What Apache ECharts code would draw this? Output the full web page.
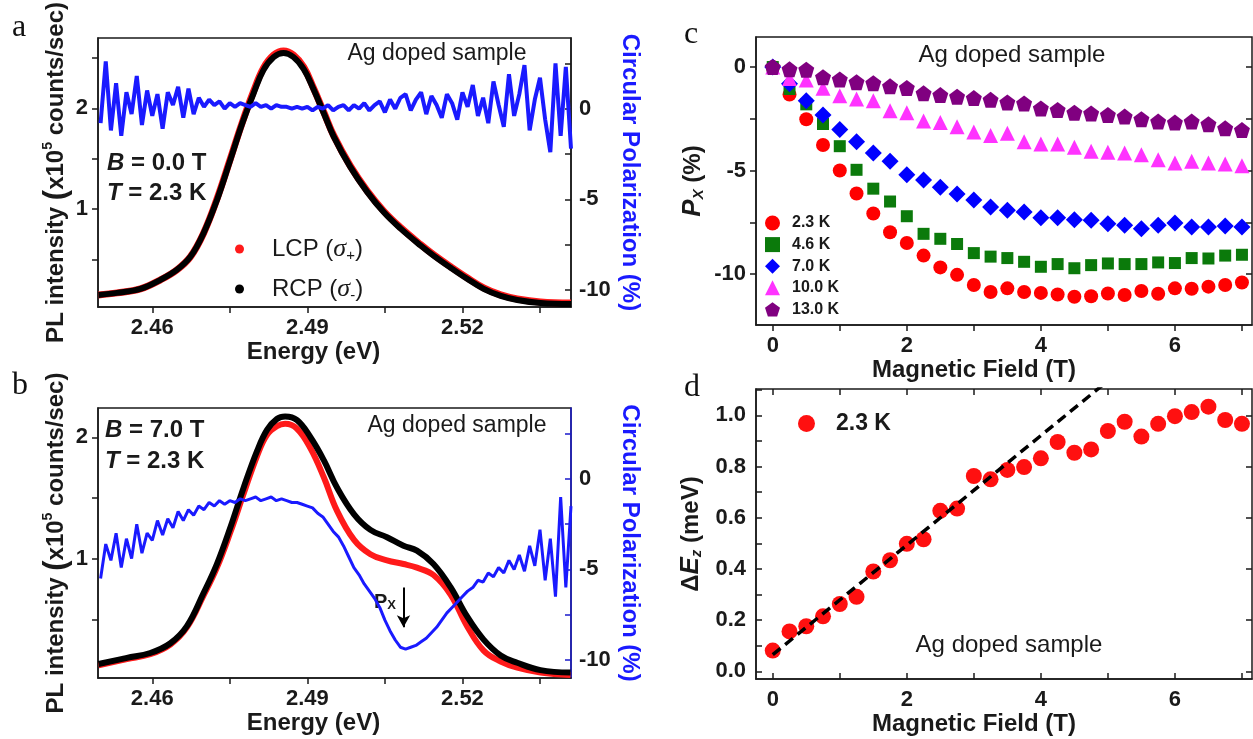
<!DOCTYPE html>
<html>
<head>
<meta charset="utf-8">
<title>Ag doped sample</title>
<script src="https://cdn.jsdelivr.net/npm/echarts@6/dist/echarts.min.js"></script>
<style>
html, body { margin: 0; padding: 0; background: #fff; }
#main { width: 1253px; height: 739px; }
</style>
</head>
<body>
<div id="main"></div>
<script>
var myChart = echarts.init(document.getElementById('main'));

// ---- panel a : B = 0 T spectra (energy eV, PL x1e5 counts/sec)
var plEnergyA = [2.4496, 2.4532, 2.4577, 2.4616, 2.4648, 2.4674, 2.4699, 2.4725, 2.4751, 2.4774, 2.4796, 2.4815, 2.4835, 2.4854, 2.4873, 2.4893, 2.4912, 2.4932, 2.4951, 2.4983, 2.5016, 2.5048, 2.5080, 2.5119, 2.5144, 2.5177, 2.5209, 2.5241, 2.5274, 2.5306, 2.5351, 2.5410];
var lcpA = [0.15, 0.17, 0.21, 0.30, 0.40, 0.53, 0.76, 1.10, 1.50, 1.86, 2.17, 2.40, 2.53, 2.57, 2.53, 2.41, 2.20, 1.96, 1.73, 1.43, 1.18, 0.98, 0.82, 0.65, 0.55, 0.43, 0.32, 0.22, 0.15, 0.11, 0.08, 0.07];
var rcpA = [0.15, 0.17, 0.21, 0.30, 0.40, 0.53, 0.76, 1.09, 1.49, 1.85, 2.15, 2.38, 2.51, 2.55, 2.51, 2.39, 2.19, 1.95, 1.72, 1.42, 1.17, 0.97, 0.81, 0.64, 0.54, 0.42, 0.31, 0.21, 0.14, 0.10, 0.07, 0.06];

// polarization traces share one energy grid
var polEnergy = [
  2.450, 2.451, 2.452, 2.453, 2.454, 2.455, 2.456, 2.457, 2.458, 2.459,
  2.460, 2.461, 2.462, 2.463, 2.464, 2.465, 2.466, 2.467, 2.468, 2.469,
  2.470, 2.471, 2.472, 2.473, 2.474, 2.475, 2.476, 2.477, 2.478, 2.479,
  2.480, 2.481, 2.482, 2.483, 2.484, 2.485, 2.486, 2.487, 2.488, 2.489,
  2.490, 2.491, 2.492, 2.493, 2.494, 2.495, 2.496, 2.497, 2.498, 2.499,
  2.500, 2.501, 2.502, 2.503, 2.504, 2.505, 2.506, 2.507, 2.508, 2.509,
  2.510, 2.511, 2.512, 2.513, 2.514, 2.515, 2.516, 2.517, 2.518, 2.519,
  2.520, 2.521, 2.522, 2.523, 2.524, 2.525, 2.526, 2.527, 2.528, 2.529,
  2.530, 2.531, 2.532, 2.533, 2.534, 2.535, 2.536, 2.537, 2.538, 2.539,
  2.540, 2.541];
var polA = [
  -0.8, 2.6, -1.2, 1.4, -1.5, 0.9, -0.3, 1.8, -0.9, 1.0,
  -0.4, 0.8, -1.1, 0.9, 0.2, 1.2, -0.5, 1.1, -0.3, 0.6,
  0.1, 0.5, 0.2, 0.4, 0.0, 0.3, 0.1, 0.3, 0.2, 0.1,
  0.3, 0.1, 0.2, 0.0, 0.2, 0.1, 0.1, 0.0, 0.1, 0.0,
  0.1, -0.1, 0.1, 0.0, 0.2, -0.1, 0.1, 0.2, -0.1, 0.2,
  0.0, 0.3, -0.1, 0.2, 0.4, -0.2, 0.5, 0.0, 0.6, 0.8,
  -0.1, 0.5, 0.9, -0.3, 0.7, 0.2, -0.5, 0.8, 0.3, -0.6,
  0.9, 0.1, 1.3, -0.4, 0.6, -0.8, 1.5, 0.2, -1.0, 1.9,
  -0.4, 0.8, 2.4, -1.2, 0.5, 1.7, -0.6, -2.4, 2.5, -1.5,
  2.3, -2.2];

// ---- panel b : B = 7 T spectra
var plEnergyB = [2.4496, 2.4551, 2.4596, 2.4635, 2.4667, 2.4699, 2.4725, 2.4751, 2.4777, 2.4803, 2.4822, 2.4841, 2.4857, 2.4880, 2.4906, 2.4932, 2.4957, 2.4990, 2.5022, 2.5054, 2.5086, 2.5112, 2.5144, 2.5177, 2.5209, 2.5241, 2.5274, 2.5306, 2.5351, 2.5409];
var lcpB = [0.13, 0.18, 0.22, 0.30, 0.44, 0.70, 0.93, 1.22, 1.54, 1.85, 2.02, 2.09, 2.11, 2.07, 1.91, 1.67, 1.40, 1.16, 1.04, 0.99, 0.96, 0.93, 0.87, 0.71, 0.45, 0.25, 0.16, 0.11, 0.07, 0.05];
var rcpB = [0.14, 0.19, 0.23, 0.31, 0.45, 0.72, 0.96, 1.26, 1.59, 1.89, 2.06, 2.15, 2.17, 2.14, 2.00, 1.81, 1.59, 1.37, 1.24, 1.18, 1.11, 1.07, 0.96, 0.77, 0.53, 0.34, 0.21, 0.15, 0.09, 0.07];
var polB = [
  -5.5, -3.6, -4.5, -3.0, -4.9, -3.3, -4.4, -2.5, -4.1, -3.0,
  -3.4, -2.3, -3.1, -2.2, -2.7, -1.8, -2.3, -1.7, -2.0, -1.5,
  -1.7, -1.3, -1.5, -1.2, -1.4, -1.2, -1.3, -1.1, -1.2, -1.1,
  -1.0, -1.2, -1.1, -1.0, -1.2, -1.1, -1.2, -1.3, -1.3, -1.4,
  -1.5, -1.6, -1.9, -2.1, -2.5, -2.9, -3.2, -3.7, -4.3, -4.9,
  -5.3, -5.8, -6.2, -6.6, -7.1, -7.8, -8.4, -8.9, -9.3, -9.4,
  -9.3, -9.2, -9.0, -8.8, -8.5, -8.2, -7.8, -7.4, -7.1, -6.8,
  -6.5, -6.2, -6.0, -5.6, -5.7, -5.2, -5.4, -4.9, -5.2, -4.5,
  -5.0, -4.2, -5.1, -3.7, -4.8, -2.8, -5.6, -3.3, -6.5, -1.0,
  -6.0, -1.5];
var pxArrow = [[2.5086, -6.0], [2.5086, -8.2]];

// ---- panel c : P_X vs field at several temperatures
var fieldT = [0, 0.25, 0.5, 0.75, 1, 1.25, 1.5, 1.75, 2, 2.25, 2.5, 2.75, 3, 3.25, 3.5, 3.75, 4, 4.25, 4.5, 4.75, 5, 5.25, 5.5, 5.75, 6, 6.25, 6.5, 6.75, 7];
var px23 = [0, -1.33, -2.52, -3.76, -4.99, -6.1, -7.07, -7.97, -8.49, -9.1, -9.67, -10.03, -10.52, -10.86, -10.68, -10.86, -10.9, -10.98, -11.09, -11.06, -10.93, -11.0, -10.81, -10.94, -10.68, -10.7, -10.6, -10.52, -10.4];
var px46 = [0, -1.06, -1.8, -2.75, -3.82, -4.96, -5.87, -6.49, -7.2, -8.05, -8.29, -8.54, -8.98, -9.15, -9.22, -9.4, -9.64, -9.51, -9.71, -9.56, -9.48, -9.51, -9.51, -9.43, -9.46, -9.22, -9.24, -9.1, -9.06];
var px70 = [0, -0.81, -1.63, -2.31, -3.01, -3.61, -4.15, -4.55, -5.2, -5.45, -5.8, -6.13, -6.42, -6.75, -6.91, -7.0, -7.27, -7.27, -7.37, -7.4, -7.56, -7.64, -7.8, -7.64, -7.53, -7.72, -7.72, -7.67, -7.72];
var px100 = [0, -0.55, -0.62, -1.02, -1.38, -1.54, -1.63, -2.11, -2.2, -2.6, -2.68, -2.88, -3.14, -3.3, -3.2, -3.61, -3.71, -3.71, -3.87, -4.07, -4.11, -4.15, -4.23, -4.47, -4.63, -4.55, -4.63, -4.68, -4.76];
var px130 = [0, -0.11, -0.13, -0.49, -0.6, -0.73, -0.78, -0.93, -1.01, -1.27, -1.35, -1.43, -1.5, -1.58, -1.71, -1.76, -2.0, -2.07, -2.2, -2.24, -2.31, -2.39, -2.52, -2.63, -2.68, -2.63, -2.76, -2.96, -3.04];
var tempNames = ['2.3 K', '4.6 K', '7.0 K', '10.0 K', '13.0 K'];

// ---- panel d : Zeeman splitting at 2.3 K
var dEz = [0.081, 0.156, 0.176, 0.215, 0.263, 0.291, 0.39, 0.434, 0.498, 0.516, 0.627, 0.636, 0.763, 0.75, 0.787, 0.798, 0.832, 0.896, 0.854, 0.867, 0.939, 0.975, 0.917, 0.967, 0.997, 1.013, 1.034, 0.982, 0.967];
var fitT = [0, 5.0];
var fitE = [0.065, 1.135];

// tick positions / labels
var energyTicks = [2.46, 2.475, 2.49, 2.505, 2.52, 2.535];
var energyLabels = [2.46, 2.49, 2.52];
var plTicksA = [0.5, 1, 1.5, 2, 2.5];
var plTicksB = [0.5, 1, 1.5, 2];
var plLabels = [1, 2];
var polTicks = [-10, -7.5, -5, -2.5, 0, 2.5];
var polLabels = [-10, -5, 0];
var fieldTicks = [0, 1, 2, 3, 4, 5, 6, 7];
var fieldLabels = [0, 2, 4, 6];
var pxTicks = [-10, -7.5, -5, -2.5, 0];
var pxLabels = [-10, -5, 0];
var dezTicks = [0, 0.1, 0.2, 0.3, 0.4, 0.5, 0.6, 0.7, 0.8, 0.9, 1.0, 1.1];
var dezLabels = [0, 0.2, 0.4, 0.6, 0.8, 1.0];

function pairs(xs, ys) {
    return xs.map(function (x, i) { return [x, ys[i]]; });
}

var SANS = 'Liberation Sans';
var INK = '#1a1a1a';
var BLUE = '#1a1aff';
var pentagon = 'path://M0,-10L9.51,-3.09L5.88,8.09L-5.88,8.09L-9.51,-3.09Z';

var tickFont = {fontFamily: SANS, fontWeight: 'bold', fontSize: 22, color: INK};
var nameFont = {fontFamily: SANS, fontWeight: 'bold', fontSize: 24, color: INK};

function valAxis(o) {
    var ax = {
        type: 'value',
        gridIndex: o.grid,
        position: o.position,
        min: o.min,
        max: o.max,
        splitLine: {show: false},
        axisLine: {show: o.line !== false, onZero: false, lineStyle: {color: o.color || INK, width: 1.5}},
        axisTick: {show: true, inside: !!o.inside, length: 6, customValues: o.ticks,
                   lineStyle: {color: o.color || INK, width: 1.5}},
        axisLabel: o.labels ? Object.assign({show: true, margin: o.margin || 10, customValues: o.labels,
                   formatter: o.fmt}, tickFont) : {show: false}
    };
    if (o.name) {
        ax.name = o.name;
        ax.nameLocation = 'middle';
        ax.nameGap = o.nameGap;
        if (o.nameRotate !== undefined) ax.nameRotate = o.nameRotate;
        ax.nameTextStyle = Object.assign({}, nameFont, o.nameStyle || {});
    }
    return ax;
}

var subRich = {
    b: {fontFamily: SANS, fontWeight: 'bold', fontSize: 24, color: INK},
    p: {fontFamily: SANS, fontWeight: 'bold', fontSize: 31, color: INK},
    sup: {fontFamily: SANS, fontWeight: 'bold', fontSize: 14, color: INK, verticalAlign: 'top'},
    pi: {fontFamily: SANS, fontWeight: 'bold', fontStyle: 'italic', fontSize: 26, color: INK},
    sub: {fontFamily: SANS, fontWeight: 'bold', fontStyle: 'italic', fontSize: 15, color: INK, verticalAlign: 'bottom'}
};
var plName = '{b|PL intensity }{p|(}{b|x10}{sup|5}{b| counts/sec)}';
var energyFmt = function (v) { return v.toFixed(2); };
var italicRich = {i: {fontStyle: 'italic', fontWeight: 'bold', fontSize: 24, fontFamily: SANS, fill: INK}};

var option = {
    animation: false,
    backgroundColor: '#fff',
    grid: [
        {left: 98, top: 37, width: 473, height: 270, show: true, borderColor: INK, borderWidth: 1.5},
        {left: 98, top: 408, width: 473, height: 270, show: true, borderColor: INK, borderWidth: 1.5},
        {left: 756, top: 37, width: 496, height: 288, show: true, borderColor: INK, borderWidth: 1.5},
        {left: 756, top: 389, width: 496, height: 290, show: true, borderColor: INK, borderWidth: 1.5}
    ],
    xAxis: [
        valAxis({grid: 0, position: 'bottom', min: 2.4495, max: 2.541, ticks: energyTicks, labels: energyLabels,
                 fmt: energyFmt, name: 'Energy (eV)', nameGap: 33, nameStyle: {padding: [0, 42, 0, 0]}}),
        valAxis({grid: 1, position: 'bottom', min: 2.4495, max: 2.541, ticks: energyTicks, labels: energyLabels,
                 fmt: energyFmt, name: 'Energy (eV)', nameGap: 33, nameStyle: {padding: [0, 42, 0, 0]}}),
        valAxis({grid: 2, position: 'bottom', min: -0.25, max: 7.15, ticks: fieldTicks, labels: fieldLabels,
                 name: 'Magnetic Field (T)', nameGap: 32, nameStyle: {padding: [0, 60, 0, 0]}}),
        valAxis({grid: 3, position: 'bottom', min: -0.25, max: 7.15, ticks: fieldTicks, labels: fieldLabels, inside: true,
                 name: 'Magnetic Field (T)', nameGap: 33, nameStyle: {padding: [0, 60, 0, 0]}}),
        valAxis({grid: 3, position: 'top', min: -0.25, max: 7.15, ticks: fieldTicks, inside: true, line: false})
    ],
    yAxis: [
        valAxis({grid: 0, position: 'left', min: 0.03, max: 2.70, ticks: plTicksA, labels: plLabels,
                 name: plName, nameGap: 22, nameStyle: {rich: subRich}}),
        valAxis({grid: 0, position: 'right', min: -10.93, max: 3.9, ticks: polTicks, labels: polLabels, inside: true,
                 margin: 8, name: 'Circular Polarization (%)', nameGap: 47, nameRotate: -90, nameStyle: {color: BLUE}}),
        valAxis({grid: 1, position: 'left', min: 0.025, max: 2.24, ticks: plTicksB, labels: plLabels,
                 name: plName, nameGap: 22, nameStyle: {rich: subRich}}),
        valAxis({grid: 1, position: 'right', min: -11.0, max: 3.92, ticks: polTicks, labels: polLabels, inside: true,
                 margin: 8, color: '#1a1acc', name: 'Circular Polarization (%)', nameGap: 47, nameRotate: -90,
                 nameStyle: {color: BLUE}}),
        valAxis({grid: 2, position: 'left', min: -12.45, max: 1.45, ticks: pxTicks, labels: pxLabels,
                 name: '{pi|P}{sub|X}{b| (%)}', nameGap: 50, nameStyle: {rich: subRich}}),
        valAxis({grid: 2, position: 'right', min: -12.45, max: 1.45, ticks: pxTicks, inside: true, line: false}),
        valAxis({grid: 3, position: 'left', min: -0.03, max: 1.103, ticks: dezTicks, labels: dezLabels, inside: true,
                 fmt: function (v) { return v.toFixed(1); },
                 name: '{b|Δ}{pi|E}{sub|z}{b| (meV)}', nameGap: 52, nameStyle: {rich: subRich}}),
        valAxis({grid: 3, position: 'right', min: -0.03, max: 1.103, ticks: dezLabels, inside: true, line: false})
    ],
    legend: [
        {
            left: 230, top: 230, orient: 'vertical', selectedMode: false,
            icon: 'circle', itemWidth: 9, itemHeight: 9, itemGap: 12,
            data: ['LCP', 'RCP'],
            formatter: function (n) { return n + ' ({s|σ}{d|' + (n === 'LCP' ? '+' : '-') + '})'; },
            textStyle: {
                fontFamily: SANS, fontSize: 24, color: INK, lineHeight: 28, padding: [0, 0, 0, 23],
                rich: {
                    s: {fontFamily: 'Liberation Serif', fontStyle: 'italic', fontSize: 26, color: INK},
                    d: {fontFamily: SANS, fontSize: 15, color: INK, verticalAlign: 'bottom'}
                }
            }
        },
        {
            left: 760, top: 210, orient: 'vertical', selectedMode: false,
            itemWidth: 15, itemHeight: 15, itemGap: 5.6,
            data: [
                {name: tempNames[0], icon: 'circle'},
                {name: tempNames[1], icon: 'rect'},
                {name: tempNames[2], icon: 'diamond'},
                {name: tempNames[3], icon: 'triangle'},
                {name: tempNames[4], icon: pentagon}
            ],
            textStyle: {fontFamily: SANS, fontWeight: 'bold', fontSize: 16, color: INK, lineHeight: 16, padding: [0, 0, 0, 7]}
        },
        {
            left: 793, top: 407, orient: 'vertical', selectedMode: false,
            icon: 'circle', itemWidth: 17, itemHeight: 17,
            data: ['dEz'],
            formatter: function () { return '2.3 K'; },
            textStyle: {fontFamily: SANS, fontWeight: 'bold', fontSize: 23, color: INK, padding: [0, 0, 0, 16]}
        }
    ],
    graphic: [
        {type: 'text', left: 12, top: 12, style: {text: 'a', font: '32px "Liberation Serif"', fill: '#111'}},
        {type: 'text', left: 12, top: 370, style: {text: 'b', font: '32px "Liberation Serif"', fill: '#111'}},
        {type: 'text', left: 684, top: 19, style: {text: 'c', font: '32px "Liberation Serif"', fill: '#111'}},
        {type: 'text', left: 684, top: 372, style: {text: 'd', font: '32px "Liberation Serif"', fill: '#111'}},
        {type: 'text', x: 437, y: 54, style: {text: 'Ag doped sample', font: '23px "Liberation Sans"', fill: INK, align: 'center', verticalAlign: 'middle'}},
        {type: 'text', x: 457, y: 426, style: {text: 'Ag doped sample', font: '23px "Liberation Sans"', fill: INK, align: 'center', verticalAlign: 'middle'}},
        {type: 'text', x: 1012, y: 55, style: {text: 'Ag doped sample', font: '24px "Liberation Sans"', fill: INK, align: 'center', verticalAlign: 'middle'}},
        {type: 'text', x: 1009, y: 645, style: {text: 'Ag doped sample', font: '24px "Liberation Sans"', fill: INK, align: 'center', verticalAlign: 'middle'}},
        {type: 'text', x: 107, y: 163, style: {text: '{i|B} = 0.0 T', font: 'bold 24px "Liberation Sans"', fill: INK, verticalAlign: 'middle', rich: italicRich}},
        {type: 'text', x: 107, y: 193, style: {text: '{i|T} = 2.3 K', font: 'bold 24px "Liberation Sans"', fill: INK, verticalAlign: 'middle', rich: italicRich}},
        {type: 'text', x: 105, y: 430, style: {text: '{i|B} = 7.0 T', font: 'bold 24px "Liberation Sans"', fill: INK, verticalAlign: 'middle', rich: italicRich}},
        {type: 'text', x: 105, y: 461, style: {text: '{i|T} = 2.3 K', font: 'bold 24px "Liberation Sans"', fill: INK, verticalAlign: 'middle', rich: italicRich}},
        {type: 'text', x: 374, y: 602, style: {text: 'P{s|X}', font: 'bold 20px "Liberation Sans"', fill: INK, verticalAlign: 'middle',
            rich: {s: {fontSize: 13, fontWeight: 'bold', fontFamily: SANS, fill: INK, verticalAlign: 'bottom'}}}}
    ],
    series: [
        // panel a
        {name: 'LCP', type: 'line', xAxisIndex: 0, yAxisIndex: 0, data: pairs(plEnergyA, lcpA), smooth: 0.4,
         showSymbol: false, itemStyle: {color: '#ff1a1a'}, lineStyle: {color: '#ff1a1a', width: 7}},
        {name: 'RCP', type: 'line', xAxisIndex: 0, yAxisIndex: 0, data: pairs(plEnergyA, rcpA), smooth: 0.4,
         showSymbol: false, itemStyle: {color: '#000'}, lineStyle: {color: '#000', width: 6}},
        {name: 'Pol a', type: 'line', xAxisIndex: 0, yAxisIndex: 1, data: pairs(polEnergy, polA),
         showSymbol: false, lineStyle: {color: BLUE, width: 4}},
        // panel b
        {name: 'LCP b', type: 'line', xAxisIndex: 1, yAxisIndex: 2, data: pairs(plEnergyB, lcpB), smooth: 0.4,
         showSymbol: false, lineStyle: {color: '#ff1a1a', width: 6}},
        {name: 'RCP b', type: 'line', xAxisIndex: 1, yAxisIndex: 2, data: pairs(plEnergyB, rcpB), smooth: 0.4,
         showSymbol: false, lineStyle: {color: '#000', width: 6}},
        {name: 'Pol b', type: 'line', xAxisIndex: 1, yAxisIndex: 3, data: pairs(polEnergy, polB),
         showSymbol: false, lineStyle: {color: BLUE, width: 3},
         markLine: {silent: true, symbol: ['none', 'arrow'], symbolSize: [10, 12],
                    lineStyle: {color: '#000', width: 2, type: 'solid'}, label: {show: false},
                    data: [[{coord: pxArrow[0]}, {coord: pxArrow[1]}]]}},
        // panel c
        {name: tempNames[0], type: 'scatter', xAxisIndex: 2, yAxisIndex: 4, data: pairs(fieldT, px23),
         symbol: 'circle', symbolSize: 14, itemStyle: {color: '#ff0000', opacity: 1}},
        {name: tempNames[1], type: 'scatter', xAxisIndex: 2, yAxisIndex: 4, data: pairs(fieldT, px46),
         symbol: 'rect', symbolSize: 12, itemStyle: {color: '#0b7a0b', opacity: 1}},
        {name: tempNames[2], type: 'scatter', xAxisIndex: 2, yAxisIndex: 4, data: pairs(fieldT, px70),
         symbol: 'diamond', symbolSize: 17, itemStyle: {color: '#0000ff', opacity: 1}},
        {name: tempNames[3], type: 'scatter', xAxisIndex: 2, yAxisIndex: 4, data: pairs(fieldT, px100),
         symbol: 'triangle', symbolSize: 15, itemStyle: {color: '#ff33ff', opacity: 1}},
        {name: tempNames[4], type: 'scatter', xAxisIndex: 2, yAxisIndex: 4, data: pairs(fieldT, px130),
         symbol: pentagon, symbolSize: 16, itemStyle: {color: '#800080', opacity: 1}},
        // panel d
        {name: 'fit', type: 'line', xAxisIndex: 3, yAxisIndex: 6, data: pairs(fitT, fitE), showSymbol: false,
         clip: true, lineStyle: {color: '#000', width: 3.5, type: [10, 6]}},
        {name: 'dEz', type: 'scatter', xAxisIndex: 3, yAxisIndex: 6, data: pairs(fieldT, dEz),
         symbol: 'circle', symbolSize: 16, itemStyle: {color: '#ff1010', opacity: 1}}
    ]
};

myChart.setOption(option);
</script>
</body>
</html>
